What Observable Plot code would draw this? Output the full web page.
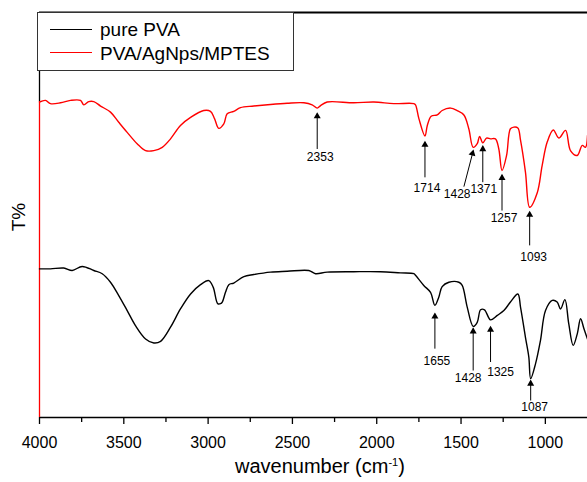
<!DOCTYPE html>
<html><head><meta charset="utf-8">
<script src="https://cdn.jsdelivr.net/npm/d3@7"></script>
<script src="https://cdn.jsdelivr.net/npm/@observablehq/plot@0.6"></script>
<style>
body{margin:0;background:#fff;font-family:"Liberation Sans",Arial,sans-serif}
#wrap{position:relative;width:587px;height:482px;overflow:hidden;background:#fff}
#wrap svg{position:absolute;left:0;top:0}
.legend{position:absolute;left:37px;top:12px;width:255px;height:57px;border:1px solid #333;background:#fff}
.lgline{position:absolute;left:50px;width:42px;height:0}
.lgtext{position:absolute;left:100px;font-size:19px;line-height:19px;white-space:nowrap;color:#000}
.xlabel{position:absolute;left:235px;top:456px;font-size:20px;line-height:20px;white-space:nowrap;color:#000}
.xlabel sup{font-size:11px;vertical-align:0.6em;line-height:0}
</style></head><body><div id="wrap"></div>
<script>
// Spectra (wavenumber, cm-1) and transmittance (arbitrary T% units)
const redWn = [4000,3964,3935,3875,3816,3757,3737,3708,3678,3638,3579,3530,3480,3421,3371,3322,3272,3223,3164,3104,3026,2986,2962,2937,2907,2887,2848,2808,2729,2630,2531,2432,2383,2353,2333,2294,2136,2017,1899,1780,1770,1750,1714,1700,1677,1641,1612,1562,1523,1483,1454,1428,1404,1390,1371,1349,1325,1296,1276,1257,1230,1207,1187,1163,1147,1118,1093,1048,1019,989,953,920,880,851,811,781,762,750];
const redT = [77.9,78.3,77.5,77.7,78.3,78.3,77.2,78.0,78.0,76.9,75.4,72.9,70.4,67.6,65.9,65.9,66.7,68.8,72.1,74.1,75.8,75.6,73.8,71.4,72.5,75.0,75.6,76.5,76.9,77.3,77.6,77.7,77.2,76.4,77.0,77.9,77.7,77.9,77.5,77.5,77.2,73.8,69.5,72.1,74.4,74.7,75.8,76.4,75.8,74.7,71.3,66.7,67.6,69.4,67.8,69.0,68.8,68.8,66.3,61.0,64.7,71.3,71.7,71.5,68.4,60.6,51.9,55.5,62.2,68.0,71.0,69.0,70.9,65.9,64.7,67.2,66.7,69.6];
const blackWn = [4000,3935,3856,3806,3747,3678,3628,3579,3530,3480,3431,3371,3322,3282,3223,3164,3104,3045,2996,2970,2943,2926,2916,2897,2877,2848,2788,2729,2630,2531,2403,2363,2294,2136,1978,1859,1780,1770,1721,1681,1655,1632,1612,1572,1513,1493,1463,1428,1404,1384,1361,1325,1285,1246,1207,1163,1147,1118,1098,1087,1058,1029,999,959,930,910,884,861,835,811,791,771,750];
const blackT = [36.7,36.7,36.9,36.3,37.3,36.3,35.5,33.4,30.1,26.4,22.7,19.4,18.4,18.8,22.3,26.8,30.5,32.8,33.8,32.2,28.1,28.1,28.5,30.9,32.8,33.2,34.8,35.3,35.9,36.1,36.3,35.5,35.9,36.0,36.0,35.7,35.5,35.1,32.6,30.9,27.7,29.7,32.3,33.4,33.4,32.6,27.2,22.5,23.5,26.6,26.6,24.1,25.2,26.4,28.5,30.5,27.2,19.8,14.9,9.6,13.3,19.0,26.4,28.9,28.5,26.8,29.1,23.1,17.8,20.6,24.4,21.9,19.4];
const redPeaks = [2353,1714,1428,1371,1257,1093];
const blackPeaks = [1655,1428,1325,1087];
const xTicks = [4000,3500,3000,2500,2000,1500,1000];
const xMinorTicks = [3750,3250,2750,2250,1750,1250];
const seriesNames = ["pure PVA","PVA/AgNps/MPTES"];
const seriesColors = ["#000000","#ff0000"];

// annotation layout (arrow tip / tail and label placement, in T units)
const redLayout = [
  {tip:75.0, tail:66.3, lab:64.4, dx:3},
  {tip:68.0, tail:59.3, lab:56.7, dx:2},
  {tip:65.8, tail:57.0, lab:55.1, tailWn:1483, labWn:1523, rot:15},
  {tip:66.9, tail:58.1, lab:56.5, dx:1},
  {tip:59.8, tail:51.1, lab:49.3, dx:2},
  {tip:50.7, tail:42.5, lab:39.5, dx:4}
];
const blackLayout = [
  {tip:25.6, tail:17.0, lab:14.0, dx:2},
  {tip:21.9, tail:11.6, lab:9.6, dx:-5},
  {tip:22.3, tail:13.7, lab:11.1, dx:10},
  {tip:9.0, tail:4.2, lab:2.5, dx:4}
];

const red = redWn.map((w,i)=>({wn:w, t:redT[i]}));
const black = blackWn.map((w,i)=>({wn:w, t:blackT[i]}));
const annos = [
  ...redPeaks.map((p,i)=>({peak:p, ...redLayout[i]})),
  ...blackPeaks.map((p,i)=>({peak:p, ...blackLayout[i]}))
].map(a=>({...a, tailWn:a.tailWn ?? a.peak, labWn:a.labWn ?? a.peak, dx:a.dx ?? 0, rot:a.rot ?? 0}));

const plot = Plot.plot({
  width:587, height:482,
  marginLeft:39, marginRight:0, marginTop:12, marginBottom:65,
  style:{fontFamily:"Liberation Sans, Arial, sans-serif", fontSize:"16px", background:"transparent", color:"#000"},
  x:{domain:[4000,750]},
  y:{domain:[0,100], axis:null},
  marks:[
    Plot.axisX(xTicks, {tickSize:7, tickPadding:12, strokeWidth:1.3, label:null, fontSize:16, tickFormat:d=>String(d)}),
    Plot.axisX(xMinorTicks, {tickSize:5, strokeWidth:1.3, tickFormat:()=>"", label:null}),
    Plot.ruleY([0], {stroke:"#000", strokeWidth:1.5}),
    Plot.ruleY([100], {stroke:"#000", strokeWidth:2}),
    Plot.ruleX([4000], {y1:redT[0], y2:100, stroke:"#000", strokeWidth:1.3}),
    Plot.ruleX([4000], {y1:0, y2:redT[0], stroke:seriesColors[1], strokeWidth:1.3}),
    Plot.line(black, {x:"wn", y:"t", stroke:seriesColors[0], strokeWidth:1.4, curve:"catmull-rom"}),
    Plot.line(red, {x:"wn", y:"t", stroke:seriesColors[1], strokeWidth:1.4, curve:"catmull-rom"}),
    Plot.link(annos, {x1:"tailWn", y1:"tail", x2:"peak", y2:"tip", stroke:"#000", strokeWidth:1}),
    Plot.dot(annos.filter(a=>a.rot===0), {x:"peak", y:"tip", symbol:"triangle", r:2.6, fill:"#000", stroke:null, dy:2.6}),
    Plot.dot(annos.filter(a=>a.rot!==0), {x:"peak", y:"tip", symbol:"triangle", r:2.6, fill:"#000", stroke:null, rotate:"rot", dx:-0.7, dy:2.5}),
    Plot.text(annos, {x:"labWn", y:"lab", text:d=>String(d.peak), fontSize:12, fill:"#000"}),
    Plot.text(["T%"], {frameAnchor:"left", textAnchor:"middle", rotate:-90, dx:-21, dy:2, fontSize:19, fill:"#000"})
  ]
});
const wrap = document.getElementById("wrap");
wrap.appendChild(plot);

// apply per-label horizontal offsets
const labelTexts = Array.from(plot.querySelectorAll("g[aria-label='text'] text")).filter(t=>/^\d+$/.test(t.textContent));
labelTexts.forEach((t,i)=>{ const a = annos[i]; if (a && a.dx) { t.setAttribute("dx", a.dx); } });

// legend
const lg = document.createElement("div"); lg.className="legend"; wrap.appendChild(lg);
const rowsY = [29.3, 52.8];
seriesNames.forEach((n,i)=>{
  const l = document.createElement("div"); l.className="lgline";
  l.style.top = (rowsY[i]-0.7)+"px"; l.style.borderTop = "1.4px solid "+seriesColors[i];
  wrap.appendChild(l);
  const t = document.createElement("div"); t.className="lgtext"; t.textContent=n;
  t.style.top = (rowsY[i]-9.3)+"px";
  wrap.appendChild(t);
});
const xl = document.createElement("div"); xl.className="xlabel";
xl.innerHTML = "wavenumber (cm<sup>-1</sup>)";
wrap.appendChild(xl);
</script>
</body></html>
